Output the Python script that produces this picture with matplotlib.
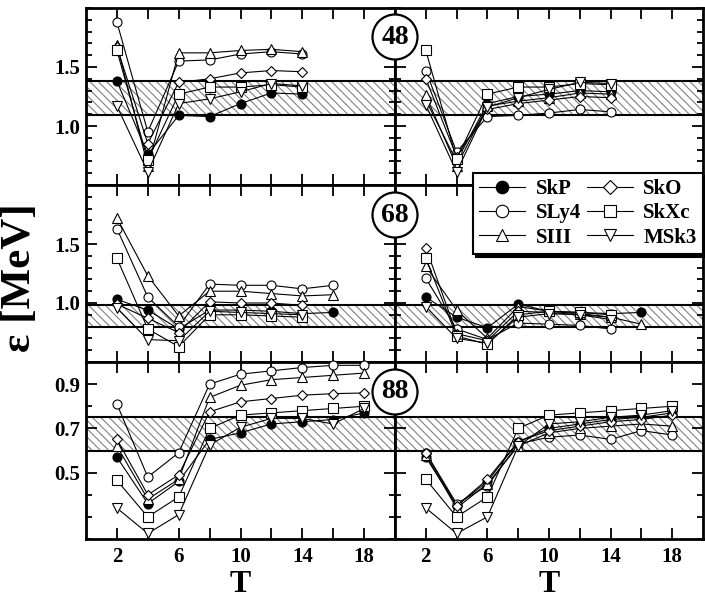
import numpy as np
import matplotlib
matplotlib.use("Agg")
import matplotlib.pyplot as plt
from matplotlib.lines import Line2D
from matplotlib.patches import Ellipse
from matplotlib.ticker import FixedLocator, MultipleLocator

plt.rcParams['font.family'] = ['Liberation Serif', 'DejaVu Serif']
plt.rcParams['font.weight'] = 'bold'
plt.rcParams['hatch.linewidth'] = 0.8
plt.rcParams['hatch.color'] = '0.45'

series = ['SkP', 'SLy4', 'SIII', 'SkO', 'SkXc', 'MSk3']
markers = {'SkP': 'o', 'SLy4': 'o', 'SIII': '^', 'SkO': 'D', 'SkXc': 's', 'MSk3': 'v'}
filled = {'SkP': True}

nan = np.nan
T48 = [2, 4, 6, 8, 10, 12, 14]
T68 = [2, 4, 6, 8, 10, 12, 14, 16]
T88 = [2, 4, 6, 8, 10, 12, 14, 16, 18]

n48_left = {
    'SkP':  [1.38, 0.76, 1.09, 1.08, 1.19, 1.28, 1.27],
    'SLy4': [1.88, 0.95, 1.55, 1.56, 1.61, 1.63, 1.61],
    'SIII': [1.69, 0.66, 1.62, 1.62, 1.64, 1.65, 1.63],
    'SkO':  [1.67, 0.85, 1.37, 1.40, 1.45, 1.47, 1.46],
    'SkXc': [1.64, 0.71, 1.27, 1.33, 1.33, 1.35, 1.33],
    'MSk3': [1.17, 0.61, 1.19, 1.23, 1.29, 1.36, 1.34],
}
n48_right = {
    'SkP':  [1.22, 0.70, 1.19, 1.25, 1.27, 1.30, 1.29],
    'SLy4': [1.47, 0.78, 1.08, 1.09, 1.11, 1.14, 1.12],
    'SIII': [1.26, 0.66, 1.17, 1.21, 1.24, 1.28, 1.27],
    'SkO':  [1.40, 0.74, 1.14, 1.19, 1.22, 1.25, 1.24],
    'SkXc': [1.64, 0.72, 1.27, 1.33, 1.33, 1.36, 1.35],
    'MSk3': [1.18, 0.61, 1.16, 1.24, 1.31, 1.37, 1.36],
}
n68_left = {
    'SkP':  [1.03, 0.94, 0.78, 0.94, 0.94, 0.93, 0.91, 0.92],
    'SLy4': [1.63, 1.05, 0.80, 1.16, 1.15, 1.15, 1.12, 1.15],
    'SIII': [1.72, 1.23, 0.89, 1.10, 1.10, 1.08, 1.06, 1.07],
    'SkO':  [0.99, 0.87, 0.75, 1.01, 1.00, 1.00, 0.98, nan],
    'SkXc': [1.38, 0.78, 0.63, 0.90, 0.90, 0.89, 0.88, nan],
    'MSk3': [0.96, 0.69, 0.68, 0.93, 0.92, 0.91, 0.90, nan],
}
n68_right = {
    'SkP':  [1.05, 0.88, 0.79, 0.99, 0.93, 0.92, 0.91, 0.92],
    'SLy4': [1.21, 0.78, 0.69, 0.83, 0.82, 0.81, 0.78, nan],
    'SIII': [1.31, 0.94, 0.70, 0.97, 0.93, 0.91, 0.88, 0.82],
    'SkO':  [1.47, 0.74, 0.68, 0.93, 0.92, 0.90, 0.88, nan],
    'SkXc': [1.38, 0.72, 0.65, 0.90, 0.93, 0.92, 0.90, nan],
    'MSk3': [0.97, 0.70, 0.66, 0.88, 0.91, 0.90, 0.86, nan],
}
n88_left = {
    'SkP':  [0.57, 0.36, 0.46, 0.65, 0.68, 0.72, 0.73, 0.74, 0.77],
    'SLy4': [0.81, 0.48, 0.59, 0.90, 0.945, 0.96, 0.975, 0.985, 0.985],
    'SIII': [0.62, 0.38, 0.47, 0.84, 0.895, 0.92, 0.93, 0.94, 0.95],
    'SkO':  [0.65, 0.40, 0.49, 0.775, 0.82, 0.835, 0.85, 0.857, 0.86],
    'SkXc': [0.465, 0.30, 0.39, 0.70, 0.76, 0.77, 0.78, 0.79, 0.80],
    'MSk3': [0.34, 0.225, 0.31, 0.625, 0.705, 0.745, 0.745, 0.72, 0.79],
}
n88_right = {
    'SkP':  [0.57, 0.35, 0.46, 0.64, 0.70, 0.72, 0.74, 0.75, 0.77],
    'SLy4': [0.59, 0.36, 0.44, 0.63, 0.66, 0.67, 0.65, 0.69, 0.67],
    'SIII': [0.58, 0.34, 0.45, 0.62, 0.68, 0.70, 0.71, 0.72, 0.71],
    'SkO':  [0.59, 0.35, 0.47, 0.64, 0.69, 0.71, 0.73, 0.74, 0.76],
    'SkXc': [0.47, 0.30, 0.39, 0.70, 0.76, 0.77, 0.78, 0.79, 0.80],
    'MSk3': [0.34, 0.225, 0.30, 0.62, 0.72, 0.73, 0.75, 0.76, 0.78],
}

bands = {'48': (1.09, 1.38), '68': (0.80, 0.98), '88': (0.60, 0.75)}
ylims = {'48': (0.5, 2.0), '68': (0.5, 2.0), '88': (0.2, 1.0)}
ymajor = {'48': [1.0, 1.5], '68': [1.0, 1.5], '88': [0.5, 0.7, 0.9]}
xticks = [2, 4, 6, 8, 10, 12, 14, 16, 18]
xlabels = ['2', '', '6', '', '10', '', '14', '', '18']

rows = [('48', T48, n48_left, n48_right),
        ('68', T68, n68_left, n68_right),
        ('88', T88, n88_left, n88_right)]

W, H = 705, 599
fig = plt.figure(figsize=(W / 100, H / 100), dpi=100)

x0L, x0R = 86 / W, 395 / W
wL, wR = 309 / W, 308 / W
ph = 177 / H
tops = [8, 185, 362]

for i, (key, T, dl, dr) in enumerate(rows):
    ybot = 1 - (tops[i] + 177) / H
    for j, (x0, w, data) in enumerate([(x0L, wL, dl), (x0R, wR, dr)]):
        ax = fig.add_axes([x0, ybot, w, ph])
        lo, hi = bands[key]
        ax.axhspan(lo, hi, facecolor='white', edgecolor='0.5', hatch='\\\\\\\\', lw=0, zorder=1)
        ax.axhline(lo, color='black', lw=1.5, zorder=2)
        ax.axhline(hi, color='black', lw=1.5, zorder=2)
        for s in series:
            ax.plot(T, data[s], color='black', lw=0.8, marker=markers[s],
                    markersize=6.5 if markers[s] != 'D' else 5.5,
                    markerfacecolor='black' if filled.get(s) else 'white',
                    markeredgecolor='black', markeredgewidth=0.8, zorder=3, clip_on=False)
        ax.set_xlim(0, 20)
        ax.set_ylim(*ylims[key])
        ax.xaxis.set_major_locator(FixedLocator(xticks))
        ax.yaxis.set_major_locator(FixedLocator(ymajor[key]))
        ax.yaxis.set_minor_locator(MultipleLocator(0.1))
        ax.tick_params(which='both', direction='in', top=True, right=True, width=1.3)
        ax.tick_params(which='major', length=8, labelsize=15)
        ax.tick_params(which='minor', length=4)
        ax.tick_params(axis='x', pad=6)
        ax.tick_params(axis='y', pad=4)
        for sp in ax.spines.values():
            sp.set_linewidth(2)
        if i == 2:
            ax.set_xticklabels(xlabels)
            ax.set_xlabel('T', fontsize=23, fontweight='bold')
            ax.xaxis.set_label_coords(0.5, -0.258)
            ax.xaxis.label.set_va('center')
        else:
            ax.set_xticklabels([])
        if j == 1:
            ax.set_yticklabels([])
        else:
            ax.set_yticklabels([f'{v:.1f}' for v in ymajor[key]])

# circled labels on the divider
centers = {'48': 37, '68': 215, '88': 392}
for key, yc in centers.items():
    e = Ellipse((x0R, 1 - yc / H), 45 / W, 45 / H, transform=fig.transFigure,
                facecolor='white', edgecolor='black', lw=1.6, zorder=20)
    fig.add_artist(e)
    fig.text(x0R, 1 - yc / H, key, ha='center', va='center', fontsize=20,
             fontweight='bold', zorder=21)

fig.text(20 / W, 1 - 278 / H, 'ε [MeV]', rotation=90, ha='center', va='center',
         fontsize=31, fontweight='bold')

handles = [Line2D([], [], color='black', lw=0.8, marker=markers[s],
                  markersize=9 if markers[s] != 'D' else 7.5,
                  markerfacecolor='black' if filled.get(s) else 'white',
                  markeredgecolor='black', markeredgewidth=0.8) for s in series]
leg = fig.legend(handles, series, ncol=2, loc='upper left',
                 bbox_to_anchor=(473 / W, 1 - 173 / H), frameon=True,
                 fancybox=False, shadow={'color': 'black', 'alpha': 1.0},
                 prop={'family': 'Liberation Serif', 'weight': 'bold', 'size': 15},
                 handlelength=2.2, handletextpad=0.5, columnspacing=0.3,
                 labelspacing=0.2, borderpad=0.3, borderaxespad=0)
leg.get_frame().set_edgecolor('black')
leg.get_frame().set_linewidth(1.5)
leg.set_zorder(30)

fig.savefig('out.png', dpi=100)
